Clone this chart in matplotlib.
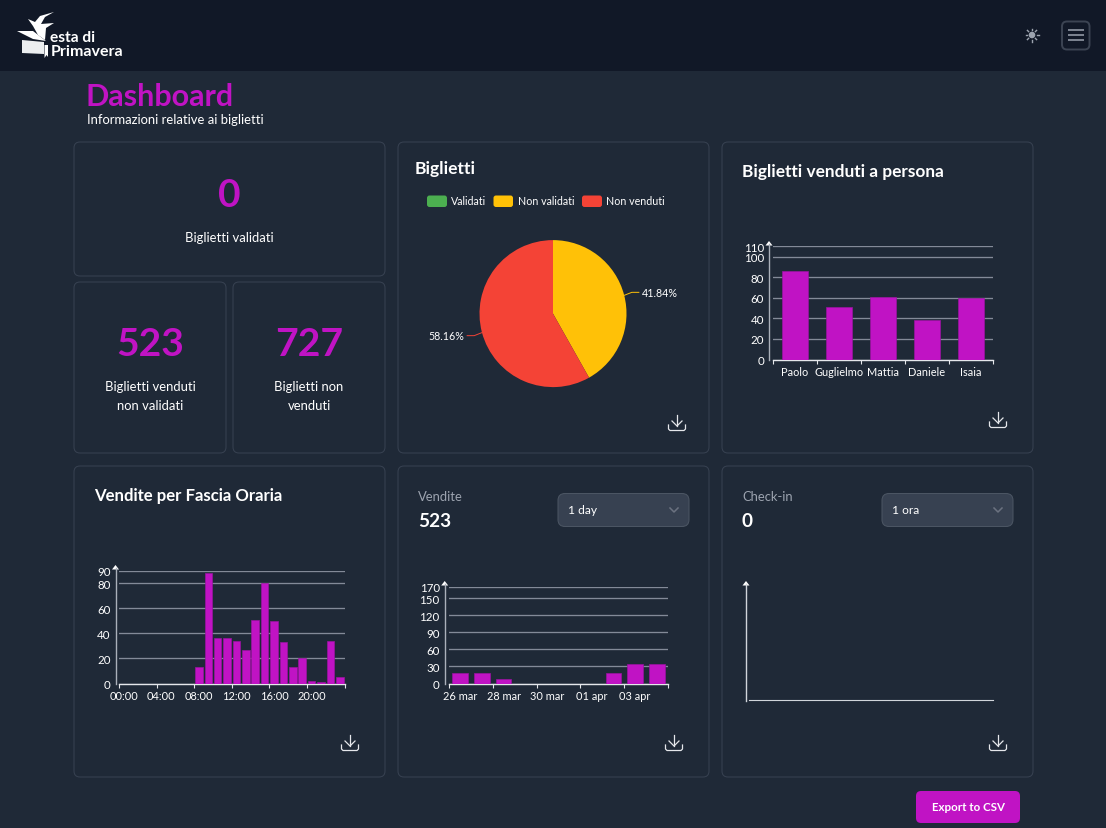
import numpy as np
import matplotlib
matplotlib.use("Agg")
import matplotlib.pyplot as plt
from matplotlib.patches import FancyBboxPatch, Polygon, Circle

W, H = 1106, 829
plt.rcParams['font.family'] = ['Lato', 'DejaVu Sans']

# ---- data
hours = [f"{h:02d}:00" for h in range(24)]
hour_sales = [0, 0, 0, 0, 0, 0, 0, 0, 13, 88, 36, 36, 34, 27, 51, 80, 50, 33, 13, 20, 2, 1, 34, 5]
hour_yticks = [0, 20, 40, 60, 80, 90]
people = ["Paolo", "Guglielmo", "Mattia", "Daniele", "Isaia"]
people_sales = [86, 51, 61, 38, 60]
people_yticks = [0, 20, 40, 60, 80, 100, 110]
days = ["26 mar", "27 mar", "28 mar", "29 mar", "30 mar", "31 mar", "01 apr", "02 apr", "03 apr", "04 apr"]
day_sales = [18, 18, 8, 0, 0, 0, 0, 18, 35, 35]
day_yticks = [0, 30, 60, 90, 120, 150, 170]
pie_labels = ["Validati", "Non validati", "Non venduti"]
pie_values = [0, 523, 727]
pie_colors = ["#4caf50", "#ffc107", "#f44336"]

BG = "#1f2937"; NAV = "#111827"; BORDER = "#374151"; ACC = "#c013c4"
GRID = "#8f96a3"; GREY = "#9ca3af"

def px(s):
    return s * 0.72

fig = plt.figure(figsize=(W / 100, H / 100), dpi=100, facecolor=BG)
ov = fig.add_axes([0, 0, 1, 1], zorder=5)
ov.set_xlim(0, W); ov.set_ylim(H - 1, -1); ov.axis("off"); ov.patch.set_alpha(0)

def rbox(x0, y0, x1, y1, r=6, fc="none", ec=BORDER, lw=0.75, **kw):
    ov.add_patch(FancyBboxPatch((x0 + r, y0 + r), x1 - x0 - 2 * r, y1 - y0 - 2 * r,
                                boxstyle=f"round,pad={r},rounding_size={r}",
                                fc=fc, ec=ec, lw=lw, **kw))

def txt(x, y, s, size, color="white", weight="normal", ha="left", **kw):
    ov.text(x, y, s, fontsize=px(size), color=color, fontweight=weight, ha=ha, va="center", **kw)

# nav bar
ov.fill_between([0, W], -1, 71, color=NAV, lw=0)

# logo
ov.add_patch(Polygon([(17, 31), (33, 31), (46, 41), (33, 39)], fc="white", ec="none"))
ov.add_patch(Polygon([(22, 40), (33, 41), (44, 42), (44, 54), (22, 53)], fc="#eceef0", ec="none"))
ov.add_patch(Polygon([(44.5, 45), (48, 45), (48, 57), (46.5, 55), (44.5, 58)], fc="white", ec="none"))
ov.add_patch(Polygon([(28, 19), (35, 22), (40, 16), (54, 12), (45, 17), (41, 24), (54, 23), (46, 28),
                      (45, 40), (38, 35), (33, 26)], fc="white", ec="none"))
txt(50, 37.5, "esta di", 15.5, weight="bold")
txt(50.5, 50.5, "Primavera", 16, weight="bold")

# sun icon + menu
ov.add_patch(Circle((1032, 35), 3.3, fc=GREY, ec="none"))
for a in np.arange(0, 360, 45):
    c, s = np.cos(np.radians(a)), np.sin(np.radians(a))
    ov.plot([1032 + 4.8 * c, 1032 + 6.5 * c], [35 + 4.8 * s, 35 + 6.5 * s], color=GREY, lw=1.0)
rbox(1062, 21.5, 1089.5, 49.5, r=5, ec="#3c4453", lw=1.4)
for y in (30, 35, 40):
    ov.plot([1067.5, 1084], [y, y], color=GREY, lw=1.1, solid_capstyle="butt")

# header
txt(85.5, 96, "Dashboard", 30.5, color=ACC, weight="bold")
txt(87, 118.5, "Informazioni relative ai biglietti", 13)

# cards
for c in [(74, 142, 385, 276), (74, 282, 226, 453), (233, 282, 385, 453), (398, 142, 709, 453),
          (722, 142, 1033, 453), (74, 466, 385, 777), (398, 466, 709, 777), (722, 466, 1033, 777)]:
    rbox(*c)

# KPI text
txt(229, 195, "0", 39, color=ACC, weight="bold", ha="center")
txt(229, 237, "Biglietti validati", 13, ha="center")
txt(150, 344, "523", 39, color=ACC, weight="bold", ha="center")
txt(150, 386, "Biglietti venduti", 13, ha="center")
txt(150, 405, "non validati", 13, ha="center")
txt(309, 344, "727", 39, color=ACC, weight="bold", ha="center")
txt(309, 386, "Biglietti non", 13, ha="center")
txt(309, 405, "venduti", 13, ha="center")

# titles
txt(415, 168, "Biglietti", 17.5, weight="bold")
txt(742, 171, "Biglietti venduti a persona", 17.2, weight="bold")
txt(94, 495, "Vendite per Fascia Oraria", 16.8, weight="bold")
txt(418, 496, "Vendite", 13, color=GREY)
txt(418, 520.5, "523", 19, weight="bold")
txt(742, 496, "Check-in", 13, color=GREY)
txt(742, 520.5, "0", 19, weight="bold")

# selects
def select(x0, label):
    rbox(x0, 493.5, x0 + 131, 526.5, r=7, fc="#374151", ec="#4b5563", lw=0.75)
    txt(x0 + 10, 510, label, 12)
    cx = x0 + 116
    ov.plot([cx - 4, cx, cx + 4], [508, 512, 508], color="#6b7280", lw=1.1)
select(558, "1 day")
select(882, "1 ora")

# button
rbox(916, 791, 1020, 823, r=5, fc=ACC, ec="none", lw=0)
txt(968, 807, "Export to CSV", 11.5, weight="bold", ha="center")

# download icons
def dl(cx, cy):
    c = "#e5e7eb"
    ov.plot([cx, cx], [cy - 8, cy + 3], color=c, lw=0.9)
    ov.plot([cx - 5, cx, cx + 5], [cy - 2, cy + 3, cy - 2], color=c, lw=0.9)
    ov.plot([cx - 8.5, cx - 8.5, cx - 7, cx + 7, cx + 8.5, cx + 8.5],
            [cy + 2, cy + 6, cy + 7.5, cy + 7.5, cy + 6, cy + 2], color=c, lw=0.9)
for p in [(677, 423), (998, 420), (350, 743), (674, 743), (998, 743)]:
    dl(*p)

# legend
lx = [(427, 447, 451), (493.5, 513, 518), (582, 602, 606)]
for (a, b, t), lab, col in zip(lx, pie_labels, pie_colors):
    rbox(a, 195.5, b, 207, r=2.5, fc=col, ec="none", lw=0)
    txt(t, 201, lab, 10.6)

def axes_px(x0, y0, x1, y1):
    return fig.add_axes([x0 / W, 1 - (y1 + 0.6) / H, (x1 - x0) / W, (y1 - y0) / H], zorder=3, facecolor="none")

def bar_chart(box, values, yticks, labels, tick_step, label_every, width, yaxis_x, arrow_top):
    x0, y0, x1, y1 = box
    ax = axes_px(x0, y0, x1, y1)
    n = len(values)
    pos = np.arange(n)
    ax.yaxis.grid(True, color=GRID, lw=0.95, alpha=0.9)
    ax.set_axisbelow(True)
    ax.bar(pos, values, width=width, color=ACC, edgecolor="#9a14a0", lw=0.5, zorder=3)
    ax.set_xlim(-0.5, n - 0.5)
    ax.set_ylim(0, yticks[-1])
    ax.set_yticks(yticks)
    ax.set_xticks(pos[::label_every])
    ax.set_xticklabels(labels[::label_every])
    ax.set_xticks(np.arange(-0.5, n, tick_step), minor=True)
    ax.tick_params(axis="x", which="minor", length=px(4), width=0.8, color="#e5e7eb")
    ax.tick_params(axis="x", which="major", length=0, pad=px(6), labelsize=px(11), labelcolor="white")
    ax.tick_params(axis="y", length=0, pad=px(x0 - yaxis_x + 5), labelsize=px(11.5), labelcolor="white")
    for s in ("top", "right"):
        ax.spines[s].set_visible(False)
    ax.spines["bottom"].set_color("#e5e7eb"); ax.spines["bottom"].set_linewidth(1.0)
    ax.spines["left"].set_visible(False)
    ov.plot([yaxis_x, yaxis_x], [y1, arrow_top + 3], color="#aab0ba", lw=1.0)
    ov.add_patch(Polygon([(yaxis_x - 3.5, arrow_top + 4.5), (yaxis_x, arrow_top), (yaxis_x + 3.5, arrow_top + 4.5)],
                         fc="white", ec="none"))
    return ax

bar_chart((119, 571, 344.5, 684), hour_sales, hour_yticks, hours, 4, 4, 0.8, 115.5, 565)
bar_chart((773, 246.7, 993, 360), people_sales, people_yticks, people, 1, 1, 0.6, 769, 241)
bar_chart((449, 587, 668, 684), day_sales, day_yticks, days, 2, 2, 0.7, 444.7, 581)

# empty check-in chart
empty = axes_px(749, 586, 993, 700.5)
empty.set_xticks([]); empty.set_yticks([])
for s in ("top", "right", "left"):
    empty.spines[s].set_visible(False)
empty.spines["bottom"].set_color("#d1d5db")
ov.plot([746, 746], [700.5, 584], color="#d1d5db", lw=1.0)
ov.add_patch(Polygon([(742.5, 585.5), (746, 581), (749.5, 585.5)], fc="white", ec="none"))

# pie
cx, cy, R = 553, 314, 73.5
pax = axes_px(cx - R, cy - R, cx + R, cy + R)
wedges, _ = pax.pie(pie_values, colors=pie_colors, startangle=90, counterclock=False, radius=1)
pax.set_xlim(-1, 1); pax.set_ylim(-1, 1)
total = sum(pie_values)
ang = 90.0
for v, col in zip(pie_values, pie_colors):
    th = v / total * 360
    if v:
        mid = np.radians(ang - th / 2)
        c, s = np.cos(mid), np.sin(mid)
        sgn = 1 if c > 0 else -1
        xa, ya = cx + R * c, cy - R * s
        xb, yb = cx + (R + 8) * c, cy - (R + 8) * s + (-1 if sgn > 0 else 1)
        xc = xb + sgn * 7
        ov.plot([xa, xb, xc], [ya, yb, yb], color=col, lw=0.7)
        ov.text(xc + sgn * 3, yb, f"{v / total * 100:.2f}%", color="white", fontsize=px(10.6),
                ha="left" if sgn > 0 else "right", va="center")
    ang -= th

fig.savefig("out.png", dpi=100, facecolor=BG)
